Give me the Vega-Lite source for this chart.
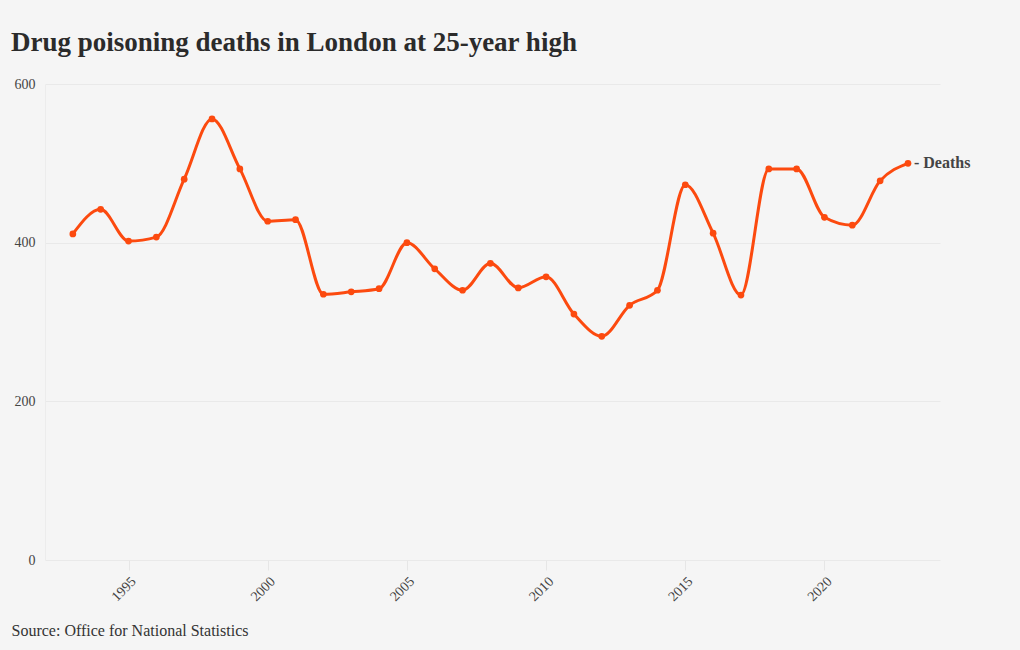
{
  "$schema": "https://vega.github.io/schema/vega-lite/v6.json",
  "width": 895,
  "height": 476,
  "autosize": {"type": "none"},
  "padding": {"left": 45, "top": 84, "right": 80, "bottom": 90},
  "background": "#f5f5f5",
  "title": {
    "text": "Drug poisoning deaths in London at 25-year high",
    "anchor": "start",
    "frame": "group",
    "dx": -34,
    "offset": -1,
    "baseline": "alphabetic",
    "font": "Liberation Serif",
    "fontSize": 27,
    "fontWeight": "bold",
    "color": "#2b2b2b"
  },
  "config": {
    "view": {"stroke": null},
    "font": "Liberation Serif"
  },
  "data": {
    "values": [
      {"year": 1993, "deaths": 411},
      {"year": 1994, "deaths": 442},
      {"year": 1995, "deaths": 402},
      {"year": 1996, "deaths": 407},
      {"year": 1997, "deaths": 480},
      {"year": 1998, "deaths": 556},
      {"year": 1999, "deaths": 493},
      {"year": 2000, "deaths": 427},
      {"year": 2001, "deaths": 429},
      {"year": 2002, "deaths": 335},
      {"year": 2003, "deaths": 338},
      {"year": 2004, "deaths": 342},
      {"year": 2005, "deaths": 400},
      {"year": 2006, "deaths": 367},
      {"year": 2007, "deaths": 340},
      {"year": 2008, "deaths": 374},
      {"year": 2009, "deaths": 343},
      {"year": 2010, "deaths": 357},
      {"year": 2011, "deaths": 310},
      {"year": 2012, "deaths": 282},
      {"year": 2013, "deaths": 321},
      {"year": 2014, "deaths": 340},
      {"year": 2015, "deaths": 473},
      {"year": 2016, "deaths": 412},
      {"year": 2017, "deaths": 334},
      {"year": 2018, "deaths": 493},
      {"year": 2019, "deaths": 493},
      {"year": 2020, "deaths": 432},
      {"year": 2021, "deaths": 422},
      {"year": 2022, "deaths": 478},
      {"year": 2023, "deaths": 500}
    ]
  },
  "encoding": {
    "x": {
      "field": "year",
      "type": "quantitative",
      "scale": {"domain": [1992, 2024.15], "nice": false, "zero": false},
      "axis": {
        "values": [1995, 2000, 2005, 2010, 2015, 2020],
        "format": "d",
        "labelAngle": -45,
        "labelFontSize": 14,
        "labelColor": "#444",
        "labelPadding": 4,
        "grid": false,
        "domain": false,
        "ticks": true,
        "tickColor": "#e6e6e6",
        "tickSize": 10,
        "title": "Source: Office for National Statistics",
        "titleAnchor": "start",
        "titleAlign": "left",
        "titleX": -34,
        "titleY": 70,
        "titleBaseline": "middle",
        "titleFontSize": 16,
        "titleFontWeight": "normal",
        "titleColor": "#333"
      }
    },
    "y": {
      "field": "deaths",
      "type": "quantitative",
      "scale": {"domain": [0, 600], "nice": false},
      "axis": {
        "values": [0, 200, 400, 600],
        "title": null,
        "grid": true,
        "gridColor": "#e9e9e9",
        "domain": true,
        "domainColor": "#ececec",
        "ticks": false,
        "labelPadding": 10,
        "labelFontSize": 14,
        "labelColor": "#444"
      }
    }
  },
  "layer": [
    {
      "mark": {"type": "line", "interpolate": "monotone", "color": "#fc4a0f", "strokeWidth": 3}
    },
    {
      "mark": {"type": "point", "filled": true, "color": "#fc4a0f", "size": 45, "opacity": 1}
    },
    {
      "transform": [{"filter": "datum.year == 2023"}],
      "mark": {"type": "text", "align": "left", "dx": 6, "fontSize": 16, "fontWeight": "bold", "color": "#444", "font": "Liberation Serif"},
      "encoding": {"text": {"value": "- Deaths"}}
    }
  ]
}
